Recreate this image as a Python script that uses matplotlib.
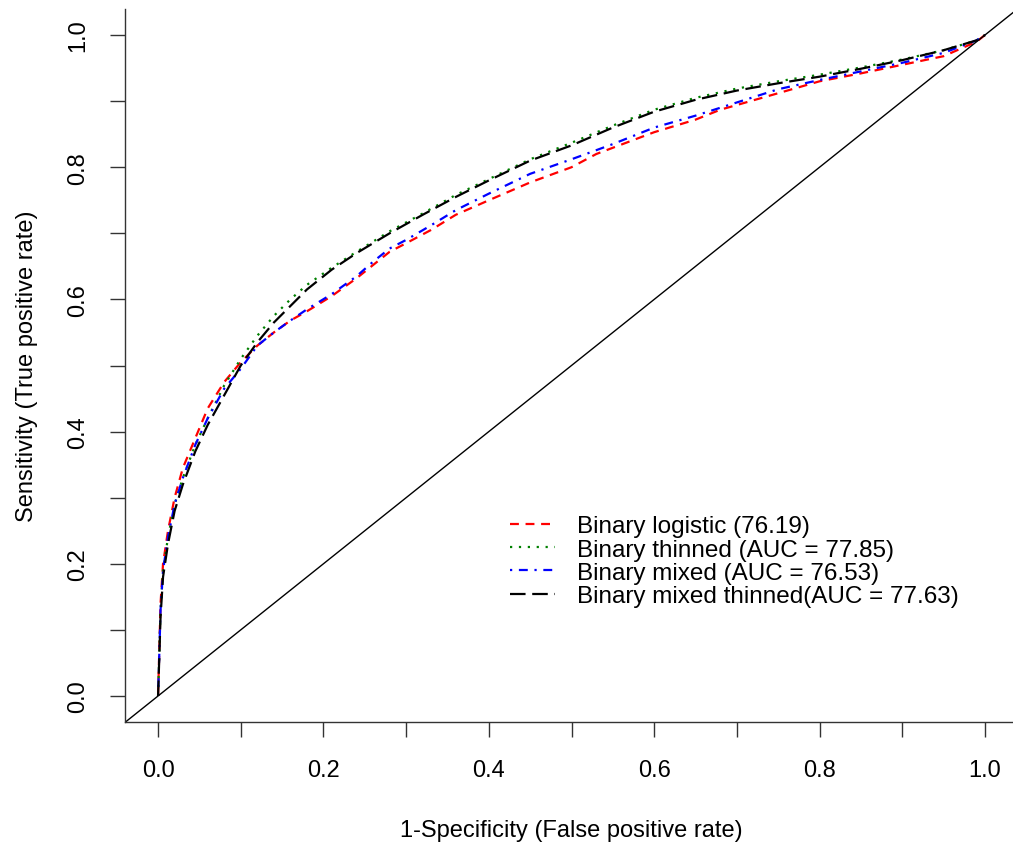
import matplotlib
matplotlib.use("Agg")
import matplotlib.pyplot as plt
import numpy as np

plt.rcParams["font.family"] = ["Liberation Sans", "DejaVu Sans"]

# ROC curves (false positive rate, true positive rate)
fpr_logistic = [0, 0.003, 0.006, 0.012, 0.02, 0.03, 0.045, 0.06, 0.08, 0.10, 0.12, 0.14,
                0.16, 0.18, 0.21, 0.24, 0.26, 0.28, 0.30, 0.33, 0.36, 0.40, 0.45, 0.50,
                0.53, 0.60, 0.65, 0.68, 0.75, 0.80, 0.85, 0.90, 0.95, 0.99, 1.0]
tpr_logistic = [0, 0.14, 0.20, 0.25, 0.30, 0.345, 0.39, 0.435, 0.475, 0.505, 0.53, 0.55,
                0.568, 0.582, 0.605, 0.632, 0.652, 0.672, 0.685, 0.705, 0.728, 0.75, 0.777,
                0.80, 0.82, 0.853, 0.872, 0.887, 0.912, 0.93, 0.942, 0.955, 0.968, 0.99, 1.0]

fpr_thinned = [0, 0.003, 0.006, 0.012, 0.02, 0.03, 0.045, 0.06, 0.08, 0.10, 0.12, 0.14,
               0.16, 0.18, 0.21, 0.24, 0.28, 0.32, 0.36, 0.40, 0.45, 0.50, 0.55, 0.60,
               0.65, 0.70, 0.75, 0.80, 0.85, 0.90, 0.95, 0.99, 1.0]
tpr_thinned = [0, 0.13, 0.19, 0.24, 0.29, 0.33, 0.38, 0.42, 0.47, 0.51, 0.545, 0.575,
               0.60, 0.622, 0.648, 0.672, 0.703, 0.73, 0.758, 0.782, 0.812, 0.837, 0.863,
               0.887, 0.905, 0.919, 0.93, 0.94, 0.951, 0.963, 0.977, 0.992, 1.0]

fpr_mixed = [0, 0.003, 0.006, 0.012, 0.02, 0.03, 0.045, 0.06, 0.08, 0.10, 0.12, 0.14,
             0.16, 0.18, 0.21, 0.24, 0.26, 0.28, 0.30, 0.33, 0.36, 0.40, 0.45, 0.50,
             0.55, 0.60, 0.65, 0.70, 0.75, 0.80, 0.85, 0.90, 0.95, 0.99, 1.0]
tpr_mixed = [0, 0.13, 0.19, 0.24, 0.29, 0.33, 0.38, 0.42, 0.465, 0.495, 0.53, 0.55,
             0.568, 0.585, 0.608, 0.635, 0.657, 0.677, 0.69, 0.712, 0.735, 0.76, 0.79,
             0.812, 0.835, 0.86, 0.878, 0.898, 0.918, 0.932, 0.945, 0.958, 0.973, 0.992, 1.0]

fpr_mixed_thinned = [0, 0.003, 0.006, 0.012, 0.02, 0.03, 0.045, 0.06, 0.08, 0.10, 0.12,
                     0.14, 0.16, 0.18, 0.21, 0.24, 0.28, 0.32, 0.36, 0.40, 0.45, 0.50,
                     0.55, 0.60, 0.65, 0.70, 0.75, 0.80, 0.85, 0.90, 0.95, 0.99, 1.0]
tpr_mixed_thinned = [0, 0.12, 0.18, 0.23, 0.28, 0.32, 0.37, 0.41, 0.455, 0.50, 0.535,
                     0.565, 0.59, 0.615, 0.645, 0.67, 0.70, 0.728, 0.755, 0.78, 0.81,
                     0.833, 0.86, 0.884, 0.902, 0.916, 0.927, 0.937, 0.949, 0.962, 0.977,
                     0.992, 1.0]

labels = ["Binary logistic (76.19)",
          "Binary thinned (AUC = 77.85)",
          "Binary mixed (AUC = 76.53)",
          "Binary mixed thinned(AUC = 77.63)"]
ticks = [0.0, 0.1, 0.2, 0.3, 0.4, 0.5, 0.6, 0.7, 0.8, 0.9, 1.0]
tick_labels = ["0.0", "", "0.2", "", "0.4", "", "0.6", "", "0.8", "", "1.0"]

fig = plt.figure(figsize=(10.13, 8.45), dpi=100)
ax = fig.add_axes([125 / 1013, 121.6 / 845, 893 / 1013, 713.8 / 845])
ax.set_xlim(-0.04, 1.04)
ax.set_ylim(-0.04, 1.04)

curves = [(fpr_logistic, tpr_logistic, "red", (0, (4, 3))),
          (fpr_thinned, tpr_thinned, "green", (0, (1, 3))),
          (fpr_mixed, tpr_mixed, "blue", (0, (1, 3, 4, 3))),
          (fpr_mixed_thinned, tpr_mixed_thinned, "black", (0, (7, 3)))]
for (x, y, c, ls), lab in zip(curves, labels):
    ax.plot(x, y, color=c, ls=ls, lw=1.6, label=lab)

ax.axline((0, 0), slope=1, color="black", lw=1)

ax.spines["top"].set_visible(False)
ax.spines["right"].set_visible(False)
for s in ("left", "bottom"):
    ax.spines[s].set_linewidth(1)
    ax.spines[s].set_color("#333333")

ax.set_xticks(ticks); ax.set_xticklabels(tick_labels)
ax.set_yticks(ticks); ax.set_yticklabels(tick_labels, rotation=90, va="center")
ax.tick_params(axis="both", length=10.5, width=1, color="#333333", labelsize=17)
ax.tick_params(axis="x", pad=16)
ax.tick_params(axis="y", pad=15)

ax.set_xlabel("1-Specificity (False positive rate)", fontsize=17, labelpad=27)
ax.set_ylabel("Sensitivity (True positive rate)", fontsize=17, labelpad=21)

ax.legend(loc="upper left", bbox_to_anchor=(0.431, 0.290), frameon=False,
          fontsize=17.5, handlelength=1.85, handletextpad=0.9, labelspacing=0.05,
          borderaxespad=0, borderpad=0)

fig.savefig("out.png", dpi=100)
